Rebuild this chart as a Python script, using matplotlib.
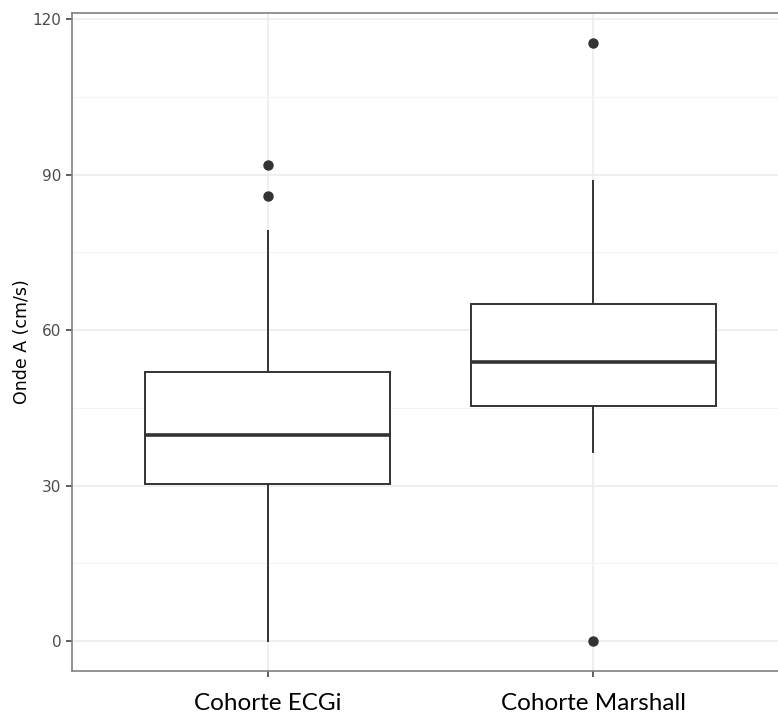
import matplotlib.pyplot as plt

# Box statistics (Onde A, cm/s)
categories = ["Cohorte ECGi", "Cohorte Marshall"]
q1 = [30.3, 45.4]
medians = [39.8, 53.8]
q3 = [52.0, 65.0]
whisker_low = [0.0, 36.4]
whisker_high = [79.2, 88.8]
outliers = [[85.8, 91.8], [0.0, 115.5]]

stats = []
for i, name in enumerate(categories):
    stats.append({
        "label": name,
        "q1": q1[i], "med": medians[i], "q3": q3[i],
        "whislo": whisker_low[i], "whishi": whisker_high[i],
        "fliers": outliers[i],
    })

fig = plt.figure(figsize=(7.78, 7.15), dpi=100)
# panel runs past the right edge of the picture, as in the reference
ax = fig.add_axes([72 / 778, 1 - 671 / 715, 717 / 778, (671 - 12.5) / 715])

dark = "#333333"
ax.bxp(stats, positions=[1, 2], widths=0.75, showcaps=False, patch_artist=True,
       boxprops=dict(facecolor="white", edgecolor=dark, linewidth=1.4),
       whiskerprops=dict(color=dark, linewidth=1.4),
       medianprops=dict(color=dark, linewidth=2.6),
       flierprops=dict(marker="o", markerfacecolor=dark, markeredgecolor=dark,
                       markersize=6.5),
       zorder=3)

ax.set_xlim(0.4, 2.6)
ax.set_ylim(-5.78, 121.3)
ax.set_yticks([0, 30, 60, 90, 120])
ax.set_yticks([15, 45, 75, 105], minor=True)
ax.set_xticks([1, 2])
ax.set_xticklabels(categories, fontsize=17.5, color="black", family="Lato")

ax.grid(True, which="major", color="#EBEBEB", linewidth=1.1, zorder=0)
ax.grid(True, which="minor", axis="y", color="#F3F3F3", linewidth=0.8, zorder=0)
ax.set_axisbelow(True)

for s in ax.spines.values():
    s.set_color("#808080")
    s.set_linewidth(1.2)

ax.tick_params(axis="y", which="major", labelsize=11, labelcolor="#4D4D4D",
               color="#333333", length=4, width=1.1)
ax.tick_params(axis="x", which="major", color="#333333", length=4, width=1.1, pad=12)
ax.tick_params(which="minor", length=0)

ax.set_ylabel("Onde A (cm/s)", fontsize=12.5, color="black", labelpad=1)

fig.savefig("out.png", dpi=100)
